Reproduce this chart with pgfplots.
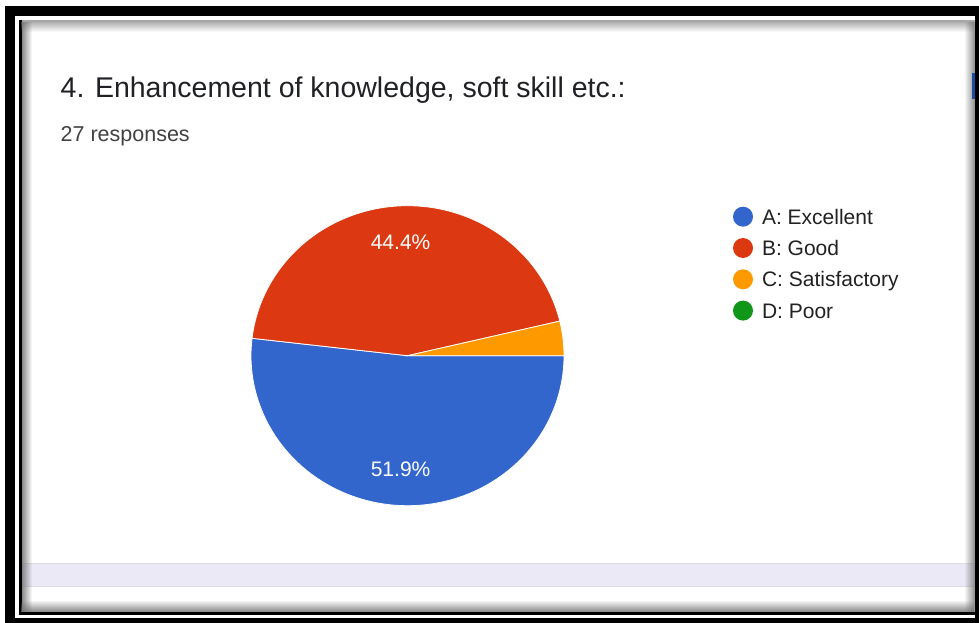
\documentclass[border=0pt]{standalone}
\usepackage{pgfplots}
\pgfplotsset{compat=1.18}
\usetikzlibrary{fadings}
\usepackage{fontspec}
\setmainfont{Liberation Sans}
\definecolor{cBlue}{HTML}{3366CC}
\definecolor{cRed}{HTML}{DC3912}
\definecolor{cOrange}{HTML}{FF9900}
\definecolor{cGreen}{HTML}{109618}
\definecolor{txt}{HTML}{202124}
\definecolor{legtxt}{HTML}{222222}
\definecolor{lav}{HTML}{ECE9F7}
\definecolor{lavline}{HTML}{DADCE0}
\definecolor{sh}{HTML}{707070}
\definecolor{edgeblue}{HTML}{1A4E9E}
% data: number of responses
\def\vA{14}% A: Excellent
\def\vB{12}% B: Good
\def\vC{1}%  C: Satisfactory
\def\vD{0}%  D: Poor
\begin{document}
\begin{tikzpicture}
\useasboundingbox (0pt,0pt) rectangle (979pt,-623pt);
\pgfmathsetmacro{\tot}{\vA+\vB+\vC+\vD}
\pgfmathsetmacro{\aA}{-360*\vA/\tot}
\pgfmathsetmacro{\aB}{\aA-360*\vB/\tot}
\pgfmathsetmacro{\aC}{\aB-360*\vC/\tot}
\pgfmathsetmacro{\mA}{\aA/2}
\pgfmathsetmacro{\mB}{(\aA+\aB)/2}
\begin{scope}[x=1pt,y=-1pt]
\fill[white] (0,0) rectangle (979,623);
\fill[black] (5,6) rectangle (979,623);
\fill[white] (15,16) rectangle (975,618);
\fill[black] (19,20) rectangle (975,615);
\fill[gray!70] (22,20) rectangle (975,22);
\fill[white] (22,22) rectangle (975,612);
\fill[lav] (22,563) rectangle (975,586);
\draw[lavline, line width=1pt] (22,563) -- (975,563);
\draw[lavline, line width=1pt] (22,586) -- (975,586);
\fill[sh, path fading=south, opacity=0.55] (22,22) rectangle (975,32);
\fill[sh, path fading=north, opacity=0.85] (22,600) rectangle (975,612);
\fill[sh, path fading=east, opacity=0.8] (22,22) rectangle (32,612);
\fill[sh, path fading=west, opacity=0.8] (964,22) rectangle (975,612);
\fill[edgeblue] (972,73) rectangle (975,99);
\node[anchor=base west, inner sep=0pt, text=txt, font=\fontsize{28.5}{34}\selectfont] at (60.5,97.3) {4. Enhancement of knowledge, soft skill etc.:};
\node[anchor=base west, inner sep=0pt, text=txt!85, font=\fontsize{21.5}{26}\selectfont] at (60.5,141.7) {27 responses};
\end{scope}
\begin{axis}[
  at={(407.5pt,-355.7pt)}, anchor=center,
  scale only axis, width=313pt, height=300pt,
  xmin=-1, xmax=1, ymin=-1, ymax=1,
  hide axis, clip=false,
  legend cell align=left,
  legend style={at={(axis description cs:1.53994,0.99667)}, anchor=north west,
    draw=none, fill=none, inner sep=0pt, outer sep=0pt,
    row sep=11.3pt, column sep=9pt,
    nodes={inner sep=0pt, text height=15pt, text depth=0pt, text=legtxt,
      font=\fontsize{21}{25}\selectfont}},
  legend image code/.code={\fill[#1] (10pt,0pt) circle (10pt);},
]
\addplot[fill=cBlue, draw=white, line width=0.8pt, domain=\aA:0, samples=150, forget plot]
  ({cos(x)},{sin(x)}) -- (axis cs:0,0) -- cycle;
\addplot[fill=cRed, draw=white, line width=0.8pt, domain=\aB:\aA, samples=150, forget plot]
  ({cos(x)},{sin(x)}) -- (axis cs:0,0) -- cycle;
\addplot[fill=cOrange, draw=white, line width=0.8pt, domain=\aC:\aB, samples=20, forget plot]
  ({cos(x)},{sin(x)}) -- (axis cs:0,0) -- cycle;
\node[text=white, inner sep=0pt, font=\fontsize{21}{25}\selectfont] at (axis cs:{0.76*cos(\mA)},{0.76*sin(\mA)}) {51.9\%};
\node[text=white, inner sep=0pt, font=\fontsize{21}{25}\selectfont] at (axis cs:{0.76*cos(\mB)},{0.76*sin(\mB)}) {44.4\%};
\addlegendimage{fill=cBlue, draw=none}
\addlegendentry{A: Excellent}
\addlegendimage{fill=cRed, draw=none}
\addlegendentry{B: Good}
\addlegendimage{fill=cOrange, draw=none}
\addlegendentry{C: Satisfactory}
\addlegendimage{fill=cGreen, draw=none}
\addlegendentry{D: Poor}
\end{axis}
\end{tikzpicture}
\end{document}
